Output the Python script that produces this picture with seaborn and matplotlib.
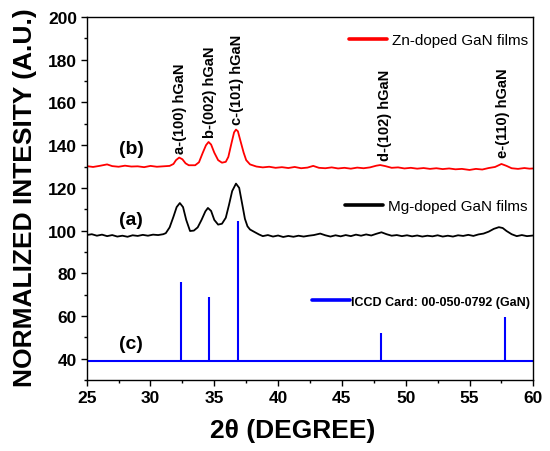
import numpy as np
import pandas as pd
import seaborn as sns
import matplotlib.pyplot as plt
from matplotlib.ticker import MultipleLocator

# Zn-doped GaN films (b)
zn_x = [25.0, 25.5, 26.0, 26.6, 27.0, 27.5, 28.0, 28.5, 29.0, 29.5, 30.0, 30.5, 31.0, 31.5,
        31.8, 32.0, 32.25, 32.5, 32.75, 33.0, 33.5, 33.8, 34.1, 34.35, 34.55, 34.75, 35.0,
        35.3, 35.6, 35.9, 36.1, 36.35, 36.55, 36.7, 36.85, 37.05, 37.3, 37.5, 37.8, 38.3,
        38.8, 39.3, 39.8, 40.3, 40.8, 41.3, 41.8, 42.3, 42.75, 43.2, 43.7, 44.2, 44.7, 45.2,
        45.7, 46.2, 46.7, 47.2, 47.7, 48.0, 48.4, 48.9, 49.4, 49.9, 50.4, 50.9, 51.4, 51.9,
        52.4, 52.9, 53.4, 53.9, 54.4, 55.0, 55.5, 56.0, 56.5, 57.0, 57.5, 57.9, 58.3, 58.8,
        59.3, 59.7, 60.0]
zn_y = [130.2, 129.8, 130.3, 131.0, 130.2, 129.9, 130.4, 130.0, 130.1, 129.7, 130.3, 129.9, 130.1, 130.3,
        131.2, 133.0, 134.2, 133.4, 131.5, 130.6, 130.6, 132.0, 136.5, 140.0, 141.5, 140.3, 136.5,
        133.0, 131.8, 132.2, 134.5, 141.0, 146.0, 147.3, 146.5, 142.0, 136.5, 133.0, 131.0, 130.0,
        129.6, 129.9, 129.4, 129.7, 129.3, 129.8, 129.2, 129.5, 130.3, 129.4, 129.2, 129.6, 129.1, 129.4,
        129.0, 129.5, 129.2, 129.6, 130.4, 130.7, 130.2, 129.4, 129.6, 129.1, 129.4, 129.0, 129.3, 128.9,
        129.2, 128.8, 129.1, 128.7, 128.9, 128.4, 128.9, 128.6, 129.3, 129.8, 131.2, 130.3, 129.2, 128.9,
        129.3, 129.0, 129.1]

# Mg-doped GaN films (a)
mg_x = [25.0, 25.4, 25.8, 26.2, 26.6, 27.0, 27.4, 27.8, 28.2, 28.6, 29.0, 29.4, 29.8, 30.2,
        30.6, 31.0, 31.2, 31.5, 31.8, 32.05, 32.3, 32.55, 32.8, 33.1, 33.4, 33.7, 34.0, 34.3,
        34.5, 34.75, 35.0, 35.3, 35.6, 35.9, 36.15, 36.4, 36.7, 36.95, 37.2, 37.4, 37.6, 37.8,
        38.1, 38.5, 38.8, 39.2, 39.6, 40.0, 40.4, 40.8, 41.2, 41.6, 42.0, 42.4, 42.8, 43.3,
        43.7, 44.1, 44.5, 44.9, 45.3, 45.7, 46.1, 46.5, 46.9, 47.3, 47.7, 48.1, 48.5, 48.9,
        49.3, 49.7, 50.1, 50.5, 50.9, 51.3, 51.7, 52.1, 52.5, 52.9, 53.3, 53.7, 54.1, 54.5,
        54.9, 55.3, 55.7, 56.1, 56.5, 56.9, 57.3, 57.6, 57.9, 58.3, 58.7, 59.1, 59.5, 60.0]
mg_y = [97.9, 98.3, 97.6, 98.1, 97.4, 97.9, 97.2, 97.6, 97.1, 97.8, 97.5, 98.0, 97.6, 98.1,
        97.9, 98.3, 98.8, 101.5, 106.5, 111.0, 112.9, 111.0, 105.0, 99.8, 100.0, 101.5, 105.0, 109.0,
        110.6, 109.2, 105.0, 102.8, 103.2, 106.0, 112.0, 118.5, 122.0, 120.0, 112.0, 105.5, 102.0, 100.5,
        99.5, 98.2, 97.4, 97.9, 97.2, 97.7, 97.0, 97.5, 97.1, 97.6, 97.2, 97.6, 97.9, 98.6,
        97.8, 97.2, 97.8, 97.3, 97.9, 97.4, 98.1, 97.6, 98.2, 97.7, 98.5, 99.2, 98.3, 97.6,
        97.9, 97.4, 97.8, 97.3, 97.7, 97.2, 97.6, 97.3, 97.8, 97.2, 97.6, 97.2, 97.8, 97.5,
        98.0, 97.5, 98.2, 98.6, 99.5, 100.8, 101.6, 101.2, 99.8, 98.3, 97.4, 97.9, 97.4, 97.7]

# ICCD card 00-050-0792 (c)
iccd_base = 39.0
iccd_pos = [32.37, 34.56, 36.83, 48.09, 57.78]
iccd_height = [75.7, 68.7, 104.3, 52.0, 59.7]

peak_labels = ["a-(100) hGaN", "b-(002) hGaN", "c-(101) hGaN", "d-(102) hGaN", "e-(110) hGaN"]
peak_label_x = [32.3, 34.7, 36.75, 48.4, 57.65]
peak_label_y = [136.3, 143.9, 150.0, 133.0, 134.6]

zn = pd.DataFrame({"theta": zn_x, "intensity": zn_y})
mg = pd.DataFrame({"theta": mg_x, "intensity": mg_y})

sns.set_theme(style="ticks")
plt.rcParams['font.family'] = ['Liberation Sans', 'DejaVu Sans']
plt.rcParams['text.color'] = 'black'
plt.rcParams['axes.labelcolor'] = 'black'
plt.rcParams['xtick.color'] = 'black'
plt.rcParams['ytick.color'] = 'black'
plt.rcParams['legend.labelcolor'] = 'black'

fig = plt.figure(figsize=(5.5, 4.52), dpi=100)
ax = fig.add_axes([0.1576, 0.157, 0.8121, 0.803])

sns.lineplot(data=zn, x="theta", y="intensity", color="#ff0000", linewidth=1.3, ax=ax)
linea_zn = ax.lines[-1]
sns.lineplot(data=mg, x="theta", y="intensity", color="black", linewidth=1.3, ax=ax)
linea_mg = ax.lines[-1]

ax.vlines(iccd_pos, iccd_base, iccd_height, color="#0000ff", linewidth=1.5)
linea_iccd = ax.axhline(iccd_base, color="#0000ff", linewidth=1.5)

for txt, px, py in zip(peak_labels, peak_label_x, peak_label_y):
    ax.text(px, py, txt, rotation=90, ha="center", va="bottom", fontsize=10.5, fontweight="bold", color="black")

ax.text(28.5, 138.4, "(b)", ha="center", va="center", fontsize=14, fontweight="bold", color="black")
ax.text(28.5, 105.1, "(a)", ha="center", va="center", fontsize=14, fontweight="bold", color="black")
ax.text(28.5, 47.0, "(c)", ha="center", va="center", fontsize=14, fontweight="bold", color="black")

leg1 = ax.legend([linea_zn], ["Zn-doped GaN films"], loc="center right", bbox_to_anchor=(0.988, 0.937),
                 frameon=False, borderpad=0, borderaxespad=0, fontsize=11, handlelength=2.5, handletextpad=0.33)
ax.add_artist(leg1)
leg2 = ax.legend([linea_mg], ["Mg-doped GaN films"], loc="center right", bbox_to_anchor=(0.988, 0.4785),
                 frameon=False, borderpad=0, borderaxespad=0, fontsize=11, handlelength=2.5, handletextpad=0.33)
ax.add_artist(leg2)
leg3 = ax.legend([linea_iccd], ["ICCD Card: 00-050-0792 (GaN)"], loc="center right", bbox_to_anchor=(0.992, 0.2157),
                 frameon=False, borderpad=0, borderaxespad=0, handlelength=3.0, handletextpad=0.1,
                 prop={"size": 9, "weight": "bold"})
for leg in (leg1, leg2, leg3):
    for l in leg.get_lines():
        l.set_linewidth(2.6)
    for t in leg.get_texts():
        t.set_color("black")

ax.set_xlim(25, 60)
ax.set_ylim(30, 200)
ax.xaxis.set_major_locator(MultipleLocator(5))
ax.xaxis.set_minor_locator(MultipleLocator(2.5))
ax.set_yticks(np.arange(40, 201, 20))
ax.yaxis.set_minor_locator(MultipleLocator(10))
ax.tick_params(which="major", direction="out", length=4.5, width=1, pad=2.5, labelsize=12.5,
               colors="black", labelcolor="black")
ax.tick_params(which="minor", direction="out", length=2.5, width=1, colors="black")
for lab in ax.get_xticklabels() + ax.get_yticklabels():
    lab.set_fontweight("bold")

for s in ax.spines.values():
    s.set_visible(True)
    s.set_linewidth(1)
    s.set_color("black")

ax.set_xlabel("2θ (DEGREE)", fontsize=19, fontweight="bold", color="black")
ax.set_ylabel("NORMALIZED INTESITY (A.U.)", fontsize=19, fontweight="bold", color="black")
ax.xaxis.set_label_coords(0.462, -0.105)
ax.yaxis.set_label_coords(-0.111, 0.505)

fig.savefig("out.png", dpi=100)
